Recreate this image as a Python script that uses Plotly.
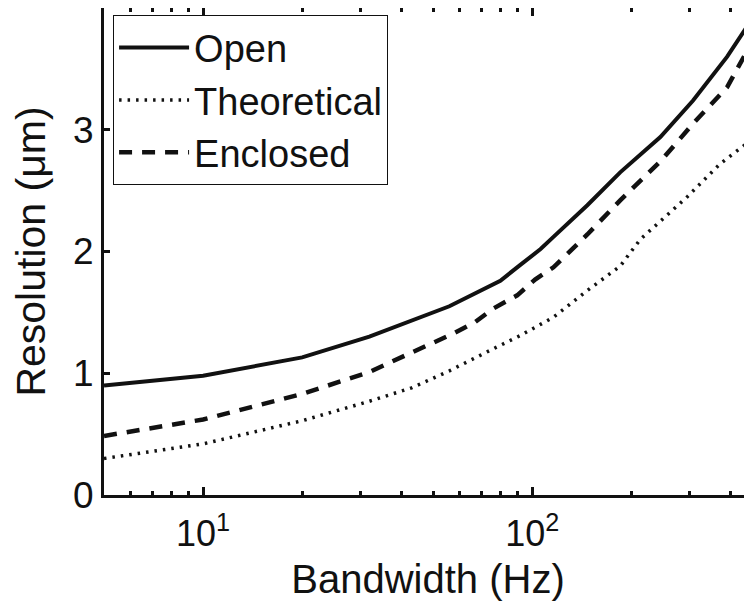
import plotly.graph_objects as go

# Bandwidth (Hz)
bw_open = [5, 10, 20, 32, 56, 80, 92, 106, 116, 147, 185, 245, 308, 391, 465, 500]
res_open = [0.90, 0.98, 1.13, 1.30, 1.55, 1.76, 1.89, 2.02, 2.12, 2.38, 2.65, 2.94, 3.24, 3.60, 3.91, 4.08]

bw_theo = [5, 10, 20, 32, 43, 56, 76, 92, 116, 147, 185, 213, 296, 372, 465, 500]
res_theo = [0.30, 0.42, 0.61, 0.77, 0.88, 1.02, 1.20, 1.31, 1.46, 1.68, 1.88, 2.10, 2.45, 2.72, 2.92, 3.00]

bw_encl = [5, 10, 20, 27, 32, 43, 50, 58, 67, 76, 90, 102, 116, 147, 185, 245, 308, 391, 465, 500]
res_encl = [0.485, 0.62, 0.83, 0.945, 1.01, 1.17, 1.25, 1.33, 1.42, 1.53, 1.64, 1.77, 1.87, 2.14, 2.42, 2.74, 3.05, 3.35, 3.72, 3.88]

x_major = [10, 100]
x_major_text = ["10<sup>1</sup>", "10<sup>2</sup>"]
x_minor = [6, 7, 8, 9, 20, 30, 40, 50, 60, 70, 80, 90, 200, 300, 400]
y_ticks = [0, 1, 2, 3]

FONT = "Liberation Sans, Arial, Helvetica, sans-serif"
INK = "#111111"

fig = go.Figure()
fig.add_trace(go.Scatter(x=bw_open, y=res_open, mode="lines", name="Open",
                         line=dict(color=INK, width=4)))
fig.add_trace(go.Scatter(x=bw_theo, y=res_theo, mode="lines", name="Theoretical",
                         line=dict(color=INK, width=3.5, dash="2.5px,6px")))
fig.add_trace(go.Scatter(x=bw_encl, y=res_encl, mode="lines", name="Enclosed",
                         line=dict(color=INK, width=4.5, dash="13px,10px")))

fig.update_layout(
    width=744, height=595,
    margin=dict(l=96, r=0, t=0, b=108, autoexpand=False),
    paper_bgcolor="white", plot_bgcolor="white",
    font=dict(family=FONT, color=INK, size=36),
    showlegend=True,
    legend=dict(x=0.014, y=0.985, xanchor="left", yanchor="top",
                bordercolor=INK, borderwidth=1, bgcolor="white",
                font=dict(size=38, family=FONT, color=INK),
                itemwidth=70, tracegroupgap=0),
    xaxis=dict(type="log", range=[0.69897, 2.6676],
               tickvals=x_major, ticktext=x_major_text,
               ticks="inside", ticklen=8, tickwidth=3, tickcolor=INK,
               minor=dict(tickvals=x_minor, ticks="inside", ticklen=4, tickwidth=3, tickcolor=INK),
               showline=True, linewidth=3, linecolor=INK, mirror="ticks",
               showgrid=False, zeroline=False,
               ticklabelstandoff=5,
               tickfont=dict(size=36, family=FONT, color=INK),
               title=dict(text="Bandwidth (Hz)", font=dict(size=40, family=FONT, color=INK), standoff=12)),
    yaxis=dict(range=[0, 4], tickvals=y_ticks,
               ticks="inside", ticklen=6, tickwidth=3, tickcolor=INK,
               showline=True, linewidth=3, linecolor=INK, mirror=False,
               showgrid=False, zeroline=False,
               tickfont=dict(size=37, family=FONT, color=INK),
               title=dict(text="Resolution (μm)", font=dict(size=41, family=FONT, color=INK), standoff=22)),
)

fig.write_html("out.html")
